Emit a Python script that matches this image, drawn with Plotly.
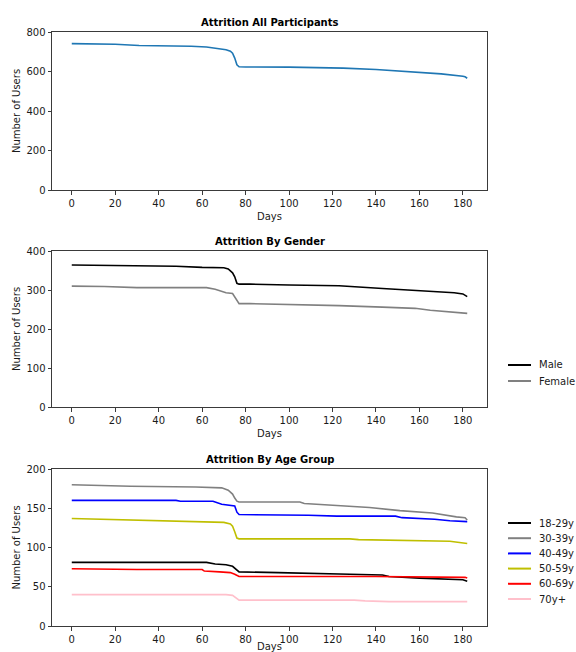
import plotly.graph_objects as go
from plotly.subplots import make_subplots

# ---- data -------------------------------------------------------------
days_all = [0, 10, 20, 31, 45, 55, 62, 68, 71, 73, 74, 75, 76, 77, 80, 100, 110, 125, 140, 150, 160, 170, 180, 181, 182]
users_all = [741, 741, 738, 732, 731, 728, 724, 717, 710, 703, 693, 668, 634, 624, 623, 622, 620, 617, 610, 602, 596, 588, 576, 573, 566]

days_male = [0, 20, 48, 60, 70, 72, 74, 75, 76, 77, 82, 100, 123, 143, 158, 170, 176, 180, 182]
users_male = [364, 363, 361, 358, 357, 354, 344, 334, 317, 315, 315, 313, 311, 304, 299, 296, 293, 290, 283]

days_female = [0, 15, 30, 62, 66, 71, 74, 75, 76, 77, 82, 105, 123, 143, 158, 165, 174, 177, 182]
users_female = [310, 309, 306, 306, 302, 293, 291, 282, 271, 265, 265, 263, 260, 256, 253, 248, 244, 241, 240]

days_18_29 = [0, 62, 66, 71, 74, 75, 76, 77, 95, 123, 128, 143, 146, 160, 170, 180, 182]
users_18_29 = [81, 81, 79, 78, 76, 74, 71, 69, 68, 67, 66, 65, 63, 61, 60, 59, 57]

days_30_39 = [0, 12, 27, 57, 69, 72, 74, 75, 76, 77, 105, 107, 125, 137, 151, 166, 177, 181, 182]
users_30_39 = [180, 179, 178, 177, 176, 173, 168, 163, 159, 158, 158, 156, 153, 151, 147, 144, 139, 138, 135]

days_40_49 = [0, 48, 50, 65, 69, 73, 75, 76, 77, 109, 122, 149, 152, 167, 174, 182]
users_40_49 = [160, 160, 159, 159, 155, 154, 153, 145, 142, 141, 140, 140, 138, 136, 134, 133]

days_50_59 = [0, 13, 28, 48, 63, 70, 73, 74, 75, 76, 77, 128, 132, 165, 174, 182]
users_50_59 = [137, 136, 135, 134, 133, 132, 130, 127, 120, 112, 111, 111, 110, 108, 108, 105]

days_60_69 = [0, 30, 60, 61, 68, 73, 75, 76, 77, 140, 181, 182]
users_60_69 = [73, 72, 72, 70, 69, 68, 66, 64, 63, 63, 62, 61]

days_70_up = [0, 71, 74, 75, 76, 77, 130, 135, 146, 182]
users_70_up = [40, 40, 39, 37, 34, 33, 33, 32, 31, 31]

panel_titles = ["Attrition All Participants", "Attrition By Gender", "Attrition By Age Group"]
x_ticks = [0, 20, 40, 60, 80, 100, 120, 140, 160, 180]

gender_series = [
    ("Male", days_male, users_male, "#000000"),
    ("Female", days_female, users_female, "#808080"),
]
age_series = [
    ("18-29y", days_18_29, users_18_29, "#000000"),
    ("30-39y", days_30_39, users_30_39, "#808080"),
    ("40-49y", days_40_49, users_40_49, "#0000ff"),
    ("50-59y", days_50_59, users_50_59, "#bfbf00"),
    ("60-69y", days_60_69, users_60_69, "#ff0000"),
    ("70y+", days_70_up, users_70_up, "#ffc0cb"),
]

# ---- figure geometry (pixels) ----------------------------------------
W, H = 576, 652
L, R, T, B = 52, 89, 32, 26
plot_w = W - L - R
plot_h = H - T - B


def px_x(px):
    return (px - L) / plot_w


def px_y(py):
    return (H - B - py) / plot_h


panel_px = [(32, 190), (251, 407), (469, 626)]  # top, bottom of each axes box

FONT = "DejaVu Sans"
TEXT = "#1a1a1a"
AXC = "#3a3a3a"

fig = make_subplots(rows=3, cols=1)

fig.add_trace(go.Scatter(x=days_all, y=users_all, mode="lines", name="All",
                         line=dict(color="#1f77b4", width=1.6), showlegend=False), row=1, col=1)
for name, d, u, c in gender_series:
    fig.add_trace(go.Scatter(x=d, y=u, mode="lines", name=name,
                             line=dict(color=c, width=1.6), showlegend=False), row=2, col=1)
for name, d, u, c in age_series:
    fig.add_trace(go.Scatter(x=d, y=u, mode="lines", name=name,
                             line=dict(color=c, width=1.6), showlegend=False), row=3, col=1)

y_ranges = [(800, 200), (400, 100), (200, 50)]
for i, ((top, bot), (ymax, dt)) in enumerate(zip(panel_px, y_ranges), start=1):
    xa = "xaxis" if i == 1 else f"xaxis{i}"
    ya = "yaxis" if i == 1 else f"yaxis{i}"
    fig.layout[ya].update(
        domain=[px_y(bot), px_y(top)], range=[0, ymax], dtick=dt, tick0=0,
        automargin=False,
        showgrid=False, zeroline=False, showline=True, linecolor=AXC, linewidth=1,
        mirror=True, ticks="outside", ticklen=3.5, tickcolor=AXC,
        tickfont=dict(family=FONT, size=10, color=TEXT),
        title=dict(text="Number of Users", font=dict(family=FONT, size=10, color=TEXT), standoff=3),
    )
    fig.layout[xa].update(
        domain=[0, 1], range=[-9.1, 191.1], tickvals=x_ticks,
        automargin=False,
        showgrid=False, zeroline=False, showline=True, linecolor=AXC, linewidth=1,
        mirror=True, ticks="outside", ticklen=3.5, tickcolor=AXC,
        tickfont=dict(family=FONT, size=10, color=TEXT),
        title=dict(text="Days", font=dict(family=FONT, size=10, color=TEXT), standoff=5),
    )
    fig.add_annotation(
        text=f"<b>{panel_titles[i - 1]}</b>", xref="paper", yref="paper",
        x=0.5, y=px_y(top), yshift=2, xanchor="center", yanchor="bottom",
        showarrow=False, font=dict(family=FONT, size=10, color="#000000"),
    )


def add_legend(series, first_row_y, row_gap):
    for k, (name, _d, _u, c) in enumerate(series):
        y = first_row_y + k * row_gap
        fig.add_shape(type="line", xref="paper", yref="paper",
                      x0=px_x(508), x1=px_x(531), y0=px_y(y), y1=px_y(y),
                      line=dict(color=c, width=2))
        fig.add_annotation(text=name, xref="paper", yref="paper",
                           x=px_x(537), y=px_y(y), xanchor="left", yanchor="middle",
                           showarrow=False, font=dict(family=FONT, size=10, color=TEXT))


add_legend(gender_series, 365, 16)
add_legend(age_series, 523, 15.2)

fig.update_layout(
    width=W, height=H, margin=dict(l=L, r=R, t=T, b=B, autoexpand=False),
    paper_bgcolor="white", plot_bgcolor="white", showlegend=False,
)

fig.write_html("out.html")
